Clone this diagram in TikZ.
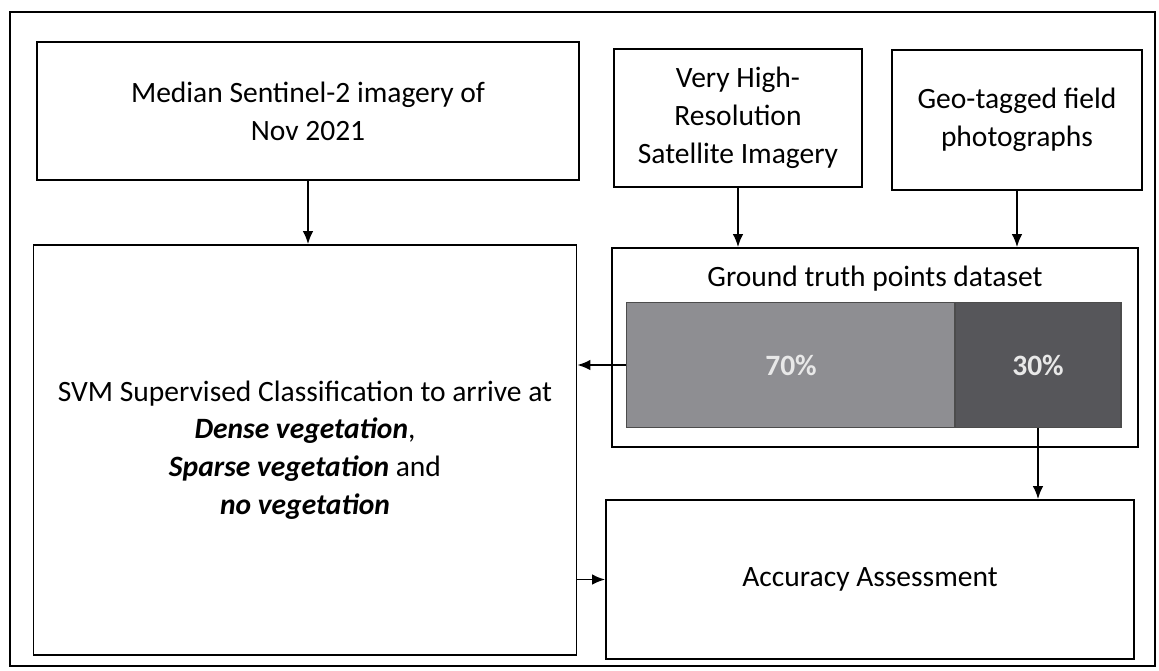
\documentclass[tikz,border=0pt]{standalone}
\usepackage{fontspec}
\setmainfont{Carlito}
\usetikzlibrary{arrows.meta,positioning}
\definecolor{trainfill}{RGB}{142,142,146}
\definecolor{testfill}{RGB}{86,86,90}
\definecolor{pctext}{RGB}{232,232,232}

\begin{document}
\begin{tikzpicture}[x=0.02cm,y=-0.02cm,line width=1pt,
  box/.style={draw,fill=white,align=center,inner sep=4pt,font=\fontsize{16.8}{21.5}\selectfont},
  bar/.style={draw=black!70,line width=0.8pt,text=pctext,font=\fontsize{16.8}{20}\selectfont\bfseries},
  flow/.style={-{Latex[length=2.6mm,width=2.1mm]}}]
\useasboundingbox (0,0) rectangle (1159,670);
\draw (10,12) rectangle (1155,666);
\node[box,minimum width=10.84cm,minimum height=2.76cm](median) at (308,111){Median Sentinel-2 imagery of\\Nov 2021};
\node[box,minimum width=4.96cm,minimum height=2.76cm](vhr) at (738,118){Very High-\\Resolution\\Satellite Imagery};
\node[box,minimum width=5cm,minimum height=2.8cm](geo) at (1017,120){Geo-tagged field\\photographs};
\node[box,minimum width=10.86cm,minimum height=8.2cm](svm) at (305,450){SVM Supervised Classification to arrive at\\\textbf{\textit{Dense vegetation}},\\\textbf{\textit{Sparse vegetation}} and\\\textbf{\textit{no vegetation}}};
\node[box,minimum width=10.52cm,minimum height=3.98cm](gt) at (875,347.5){};
\node[font=\fontsize{16.8}{20}\selectfont](gttitle) at (875,279){Ground truth points dataset};
\node[bar,fill=trainfill,minimum width=6.58cm,minimum height=2.5cm](train) at (791,365){70\%};
\node[bar,fill=testfill,minimum width=3.32cm,minimum height=2.5cm](test) at (1038,365){30\%};
\node[box,minimum width=10.56cm,minimum height=3.18cm](acc) at (870,579.5){Accuracy Assessment};
\draw[flow](median.south)--(median.south |- svm.north);
\draw[flow](vhr.south)--(vhr.south |- gt.north);
\draw[flow](geo.south)--(geo.south |- gt.north);
\draw[flow](train.west)--(svm.east |- train.west);
\draw[flow](test.south)--(test.south |- acc.north);
\draw[flow](svm.east |- acc.west)--(acc.west);
\end{tikzpicture}
\end{document}
